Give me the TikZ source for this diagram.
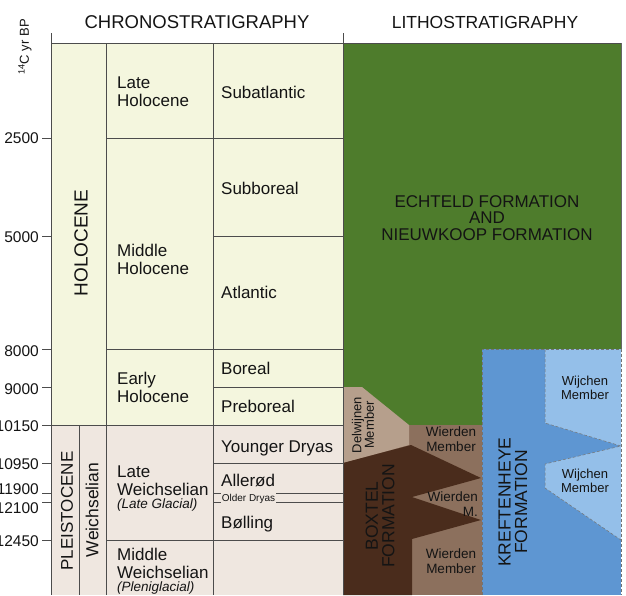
\documentclass[tikz,border=0pt]{standalone}
\usepackage{fontspec}
\setmainfont{Liberation Sans}
\usetikzlibrary{positioning}
\definecolor{holoYellow}{RGB}{244,246,222}
\definecolor{pleistoPink}{RGB}{239,231,224}
\definecolor{echteldGreen}{RGB}{78,124,44}
\definecolor{kreftBlue}{RGB}{94,150,210}
\definecolor{wijchenBlue}{RGB}{148,191,233}
\definecolor{boxtelBrown}{RGB}{74,44,28}
\definecolor{wierdenBrown}{RGB}{140,112,93}
\definecolor{delwijnenTan}{RGB}{182,159,140}
\begin{document}
\begin{tikzpicture}[x=1pt, y=-1pt,
    every node/.style={inner sep=0pt, text=black!92},
    headlbl/.style={font=\fontsize{17.5}{17.5}\selectfont},
    gridline/.style={black!70, line width=0.7pt},
    ticklbl/.style={font=\fontsize{15.5}{16}\selectfont, anchor=east},
    epochlbl/.style={font=\fontsize{17}{18}\selectfont, align=left, anchor=west},
    sublbl/.style={font=\fontsize{13.5}{14}\selectfont\itshape, anchor=west},
    chronlbl/.style={font=\fontsize{17}{17}\selectfont, anchor=base west},
    vertlbl/.style={rotate=90, align=center},
    formlbl/.style={font=\fontsize{17.5}{16.5}\selectfont, vertlbl},
    memberlbl/.style={font=\fontsize{13.5}{15}\selectfont, align=center},
    contact/.style={black!55, line width=0.5pt, densely dashed}
]
\useasboundingbox (0,0) rectangle (626,595);

% Chronostratigraphy background
\fill[holoYellow] (51,43) rectangle (343,425);
\fill[pleistoPink] (51,425) rectangle (343,595);

% Lithostratigraphy units
\fill[echteldGreen] (343,43) rectangle (621,595);
\fill[wierdenBrown] (343,425) rectangle (482,595);
\fill[delwijnenTan] (343,387) -- (362,387) -- (409,425) -- (409,445) -- (343,463) -- cycle;
\fill[boxtelBrown] (343,463) -- (411,445) -- (481,478) -- (412,497) -- (481,520) -- (412,539) -- (412,595) -- (343,595) -- cycle;
\fill[kreftBlue] (482,349) rectangle (621,595);
\fill[wijchenBlue] (545,349) -- (621,349) -- (621,446) -- (545,423) -- cycle;
\fill[wijchenBlue] (621,446) -- (545,464) -- (545,488) -- (621,540) -- cycle;
\draw[contact] (545,349) -- (545,423) -- (621,446) -- (545,464) -- (545,488) -- (621,540);
\draw[contact] (482,595) -- (482,349) -- (621,349) -- (621,595);
\draw[black!60, line width=0.5pt] (621,43) -- (621,349);

% Table lines
\draw[gridline] (51,33) -- (51,595);
\draw[gridline] (343,33) -- (343,595);
\draw[gridline] (51,43) -- (621,43);
\draw[gridline] (106,43) -- (106,595);
\draw[gridline] (79,425) -- (79,595);
\draw[gridline] (213,43) -- (213,595);
\foreach \y in {138,349,540}
  \draw[gridline] (106,\y) -- (343,\y);
\foreach \y in {236,387,463,493,502}
  \draw[gridline] (213,\y) -- (343,\y);
\draw[gridline] (51,425) -- (343,425);

% Age axis
\foreach \y/\ly/\yr in {138/138/2500, 236/237/5000, 349/351/8000, 387/389/9000, 425/426/10150, 463/464/10950, 493/489/11900, 502/508/12100, 540/541/12450}
{
  \draw[gridline] (42,\y) -- (51,\y);
  \node[ticklbl] (t\yr) at (39,\ly) {\yr};
}
\node[font=\fontsize{13}{13}\selectfont, rotate=90] (axislbl) at (25,47) {\textsuperscript{14}C yr BP};

% Headings
\node[headlbl, font=\fontsize{18.5}{18.5}\selectfont] (chrono) at (197,22) {CHRONOSTRATIGRAPHY};
\node[headlbl] (litho) at (485,22) {LITHOSTRATIGRAPHY};

% Series and stages
\node[font=\fontsize{19}{19}\selectfont, rotate=90] (holocene) at (81,243) {HOLOCENE};
\node[font=\fontsize{17}{17}\selectfont, rotate=90] (pleistocene) at (67,511) {PLEISTOCENE};
\node[font=\fontsize{17.5}{17.5}\selectfont, rotate=90] (weichsel) at (92,510) {Weichselian};

\node[epochlbl] (lateholo) at (117,92) {Late\\Holocene};
\node[epochlbl] (midholo) at (117,259) {Middle\\Holocene};
\node[epochlbl] (earlyholo) at (117,387) {Early\\Holocene};
\node[epochlbl] (lateweich) at (117,481) {Late\\Weichselian};
\node[sublbl] (lateglacial) at (117,505) {(Late Glacial)};
\node[epochlbl] (midweich) at (117,563) {Middle\\Weichselian};
\node[sublbl] (pleniglacial) at (117,588) {(Pleniglacial)};

% Chronozones
\node[chronlbl] (subatl) at (221,98) {Subatlantic};
\node[chronlbl] (subbor) at (221,194) {Subboreal};
\node[chronlbl] (atl) at (221,298) {Atlantic};
\node[chronlbl] (boreal) at (221,374) {Boreal};
\node[chronlbl] (prebor) at (221,412) {Preboreal};
\node[chronlbl] (ydryas) at (221,452.5) {Younger Dryas};
\node[chronlbl] (allerod) at (221,486) {Allerød};
\node[font=\fontsize{10}{10}\selectfont, anchor=base west, fill=pleistoPink, inner sep=0.6pt] (odryas) at (221,501) {Older Dryas};
\node[chronlbl] (bolling) at (221,528) {Bølling};

% Formations and members
\node[font=\fontsize{17}{16.5}\selectfont, align=center] (echteld) at (487,218) {ECHTELD FORMATION\\AND\\NIEUWKOOP FORMATION};
\node[memberlbl, font=\fontsize{13}{12.5}\selectfont, vertlbl] (delwijnen) at (363,425) {Delwijnen\\Member};
\node[formlbl] (boxtel) at (380,516) {BOXTEL\\FORMATION};
\node[formlbl] (kreft) at (513,502) {KREFTENHEYE\\FORMATION};
\node[memberlbl] (wierden1) at (451,439) {Wierden\\Member};
\node[memberlbl, align=right, anchor=east] (wierden2) at (478,504) {Wierden\\M.};
\node[memberlbl] (wierden3) at (451,561) {Wierden\\Member};
\node[memberlbl, font=\fontsize{13}{13.5}\selectfont] (wijchen1) at (585,388) {Wijchen\\Member};
\node[memberlbl, font=\fontsize{13}{13.5}\selectfont] (wijchen2) at (585,481) {Wijchen\\Member};
\end{tikzpicture}
\end{document}
